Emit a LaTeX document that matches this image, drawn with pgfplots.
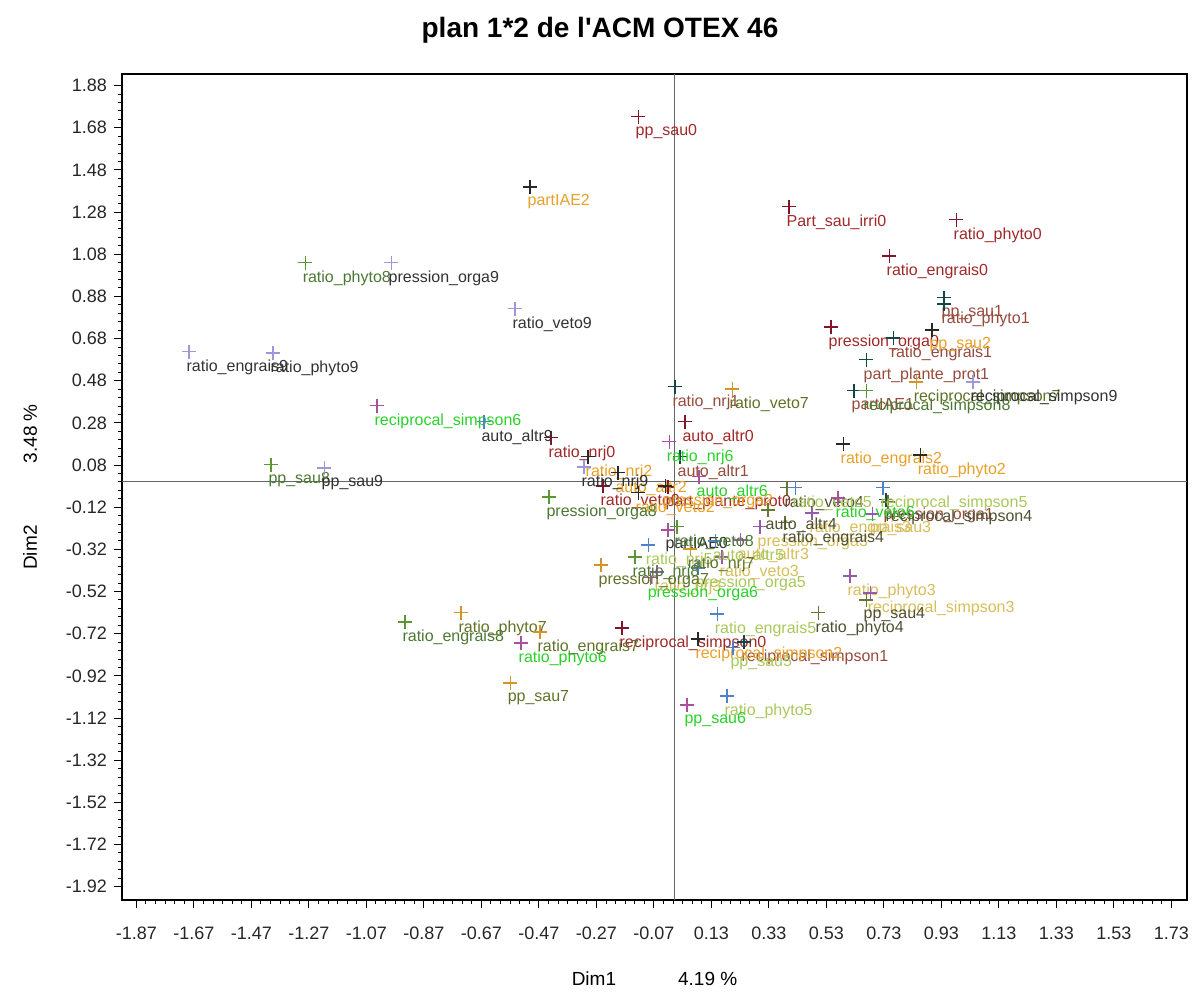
\documentclass[border=0pt]{standalone}
\usepackage{fontspec}
\setmainfont{Liberation Sans}
\usepackage{pgfplots}
\pgfplotsset{compat=1.18}
\definecolor{L0}{RGB}{160,40,40}
\definecolor{L1}{RGB}{150,75,60}
\definecolor{L2}{RGB}{232,160,40}
\definecolor{L3}{RGB}{215,190,90}
\definecolor{L4}{RGB}{80,80,50}
\definecolor{L5}{RGB}{170,200,90}
\definecolor{L6}{RGB}{40,210,40}
\definecolor{L7}{RGB}{95,115,40}
\definecolor{L8}{RGB}{75,120,50}
\definecolor{L9}{RGB}{50,50,50}
\definecolor{M0}{RGB}{130,20,40}
\definecolor{M1}{RGB}{20,70,70}
\definecolor{M2}{RGB}{40,40,40}
\definecolor{M3}{RGB}{150,90,170}
\definecolor{M4}{RGB}{100,120,50}
\definecolor{M5}{RGB}{80,130,200}
\definecolor{M6}{RGB}{170,80,160}
\definecolor{M7}{RGB}{210,150,40}
\definecolor{M8}{RGB}{90,150,50}
\definecolor{M9}{RGB}{160,150,220}
\pgfplotsset{
  grp/.style 2 args={only marks, mark=+, mark size=3.4pt, color=#1,
    mark options={line width=0.6pt},
    every node near coord/.append style={text=#2}},
}
\begin{document}
\begin{tikzpicture}
\begin{axis}[
  scale only axis, width=532.5pt, height=413pt,
  xmin=-1.92, xmax=1.784, ymin=-1.983, ymax=1.935,
  xtick={-1.87,-1.67,-1.47,-1.27,-1.07,-0.87,-0.67,-0.47,-0.27,-0.07,0.13,0.33,0.53,0.73,0.93,1.13,1.33,1.53,1.73},
  ytick={1.88,1.68,1.48,1.28,1.08,0.88,0.68,0.48,0.28,0.08,-0.12,-0.32,-0.52,-0.72,-0.92,-1.12,-1.32,-1.52,-1.72,-1.92},
  minor x tick num=5, minor y tick num=4,
  tick align=outside, xtick pos=left, ytick pos=left,
  major tick length=4pt, minor tick length=2pt,
  axis line style={line width=0.8pt},
  tick style={black, line width=0.5pt},
  /pgf/number format/.cd, fixed, fixed zerofill, precision=2, assume math mode=true,
  /pgfplots/.cd,
  ticklabel style={font=\fontsize{9}{10}\selectfont, text=black!85},
  xticklabel style={yshift=-6pt},
  clip=false,
  point meta=explicit symbolic,
  nodes near coords,
  every node near coord/.append style={anchor=north west, inner sep=0pt, xshift=-1.5pt, yshift=-3.6pt, font=\fontsize{8}{9}\selectfont},
]
\draw[gray!80!black, line width=0.5pt] (axis cs:0,-1.983) -- (axis cs:0,1.935);
\draw[gray!80!black, line width=0.5pt] (axis cs:-1.92,0) -- (axis cs:1.784,0);

\addplot[grp={M0}{L0}] coordinates {
(-0.125,1.732)[pp\_sau0]
(0.400,1.305)[Part\_sau\_irri0]
(0.981,1.243)[ratio\_phyto0]
(0.748,1.072)[ratio\_engrais0]
(0.546,0.735)[pression\_orga0]
(0.038,0.285)[auto\_altr0]
(-0.428,0.209)[ratio\_nrj0]
(-0.181,-0.693)[reciprocal\_simpson0]
(-0.021,-0.024)[part\_plante\_prot0]
(-0.247,-0.019)[ratio\_veto0]
};
\addplot[grp={M6}{L9}] coordinates {
(-0.021,-0.228)[partIAE0]
};
\addplot[grp={M1}{L1}] coordinates {
(0.939,0.873)[pp\_sau1]
(0.939,0.844)[ratio\_phyto1]
(0.762,0.683)[ratio\_engrais1]
(0.668,0.579)[part\_plante\_prot1]
(0.626,0.432)[partIAE1]
(0.003,0.451)[ratio\_nrj1]
(0.021,0.119)[auto\_altr1]
(0.737,-0.085)[pression\_orga1]
(0.243,-0.759)[reciprocal\_simpson1]
};
\addplot[grp={M2}{L2}] coordinates {
(-0.501,1.399)[partIAE2]
(0.897,0.721)[pp\_sau2]
(0.588,0.180)[ratio\_engrais2]
(0.856,0.128)[ratio\_phyto2]
(-0.299,0.119)[ratio\_nrj2]
(0.083,-0.745)[reciprocal\_simpson2]
(-0.195,0.043)[auto\_altr2]
(-0.031,-0.019)[pression\_orga2]
(-0.125,-0.052)[ratio\_veto2]
};
\addplot[grp={M3}{L3}] coordinates {
(0.612,-0.446)[ratio\_phyto3]
(0.682,-0.527)[reciprocal\_simpson3]
(0.689,-0.152)[pp\_sau3]
(0.480,-0.147)[ratio\_engrais3]
(0.299,-0.213)[pression\_orga3]
(0.167,-0.356)[ratio\_veto3]
(0.230,-0.275)[auto\_altr3]
(-0.059,-0.427)[ratio\_nrj3]
};
\addplot[grp={M4}{L4}] coordinates {
(0.668,-0.560)[pp\_sau4]
(0.501,-0.621)[ratio\_phyto4]
(0.386,-0.194)[ratio\_engrais4]
(0.327,-0.133)[auto\_altr4]
(0.744,-0.095)[reciprocal\_simpson4]
(0.393,-0.028)[ratio\_veto4]
};
\addplot[grp={M5}{L5}] coordinates {
(0.184,-1.015)[ratio\_phyto5]
(0.150,-0.626)[ratio\_engrais5]
(0.727,-0.028)[reciprocal\_simpson5]
(0.205,-0.787)[pp\_sau5]
(0.083,-0.408)[pression\_orga5]
(0.421,-0.028)[ratio\_veto5]
(0.143,-0.280)[auto\_altr5]
(-0.090,-0.299)[ratio\_nrj5]
};
\addplot[grp={M6}{L6}] coordinates {
(0.045,-1.058)[pp\_sau6]
(-0.532,-0.764)[ratio\_phyto6]
(-1.033,0.361)[reciprocal\_simpson6]
(-0.017,0.190)[ratio\_nrj6]
(0.087,0.024)[auto\_altr6]
(-0.083,-0.455)[pression\_orga6]
(0.570,-0.076)[ratio\_veto6]
};
\addplot[grp={M7}{L7}] coordinates {
(-0.570,-0.954)[pp\_sau7]
(-0.741,-0.621)[ratio\_phyto7]
(-0.466,-0.712)[ratio\_engrais7]
(0.202,0.441)[ratio\_veto7]
(-0.254,-0.394)[pression\_orga7]
(0.842,0.474)[reciprocal\_simpson7]
(0.056,-0.318)[ratio\_nrj7]
};
\addplot[grp={M8}{L8}] coordinates {
(-1.402,0.081)[pp\_sau8]
(-1.283,1.039)[ratio\_phyto8]
(-0.435,-0.071)[pression\_orga8]
(-0.936,-0.664)[ratio\_engrais8]
(0.668,0.432)[reciprocal\_simpson8]
(-0.136,-0.356)[ratio\_nrj8]
(0.010,-0.213)[ratio\_veto8]
};
\addplot[grp={M9}{L9}] coordinates {
(-1.217,0.066)[pp\_sau9]
(-1.395,0.612)[ratio\_phyto9]
(-1.687,0.617)[ratio\_engrais9]
(-0.984,1.039)[pression\_orga9]
(-0.553,0.821)[ratio\_veto9]
(-0.313,0.071)[ratio\_nrj9]
(1.040,0.474)[reciprocal\_simpson9]
};
\addplot[grp={M5}{L9}] coordinates {
(-0.661,0.285)[auto\_altr9]
};
\end{axis}
\node[font=\fontsize{14}{16}\selectfont\bfseries] at ([xshift=239pt,yshift=22pt]current axis.north west) {plan 1*2 de l\textquotesingle ACM OTEX 46};
\node[font=\fontsize{9.5}{11}\selectfont, inner sep=0pt] at ([yshift=-39.5pt]current axis.south) {Dim1\hspace{31pt}4.19 \%};
\node[rotate=90, font=\fontsize{9.5}{11}\selectfont, inner sep=0pt] at ([xshift=-46pt]current axis.west) {Dim2\hspace{31pt}3.48 \%};
\path ([xshift=-61pt,yshift=-50.5pt]current axis.south west) rectangle ([xshift=6pt,yshift=37pt]current axis.north east);
\end{tikzpicture}
\end{document}
